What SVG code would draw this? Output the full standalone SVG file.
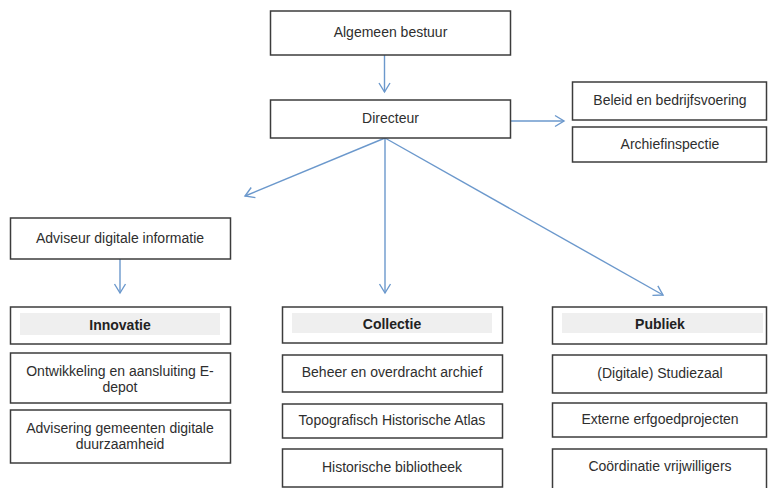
<svg xmlns="http://www.w3.org/2000/svg" width="769" height="488" viewBox="0 0 769 488">
<style>
.box{fill:#fff;stroke:#3c3c3c;stroke-width:1.5}
.band{fill:#efefef;stroke:none}
.t{font-family:"Liberation Sans",Arial,sans-serif;font-size:14px;fill:#2e2e2e;text-anchor:middle}
.h{font-weight:bold;fill:#222}
.c{fill:none;stroke:#6b98cc;stroke-width:1.4}
</style>
<defs>
<marker id="arr" viewBox="-11 -7 13 14" refX="0" refY="0" markerWidth="13" markerHeight="14" markerUnits="userSpaceOnUse" orient="auto">
<path d="M-9,-5.5 L0,0 L-9,5.5" fill="none" stroke="#6b98cc" stroke-width="1.4"/>
</marker>
</defs>
<rect width="769" height="488" fill="#fff"/>
<g id="connectors">
<line class="c" x1="384.5" y1="55" x2="384.5" y2="92" marker-end="url(#arr)"/>
<line class="c" x1="511" y1="121" x2="564" y2="121" marker-end="url(#arr)"/>
<line class="c" x1="385" y1="138" x2="245" y2="196" marker-end="url(#arr)"/>
<line class="c" x1="385" y1="138" x2="385" y2="293" marker-end="url(#arr)"/>
<line class="c" x1="385" y1="138" x2="663" y2="295" marker-end="url(#arr)"/>
<line class="c" x1="120" y1="259" x2="120" y2="293" marker-end="url(#arr)"/>
</g>
<g id="algemeen-bestuur">
<rect class="box" x="270.5" y="11" width="240" height="44"/>
<text class="t" x="390.5" y="37">Algemeen bestuur</text>
</g>
<g id="directeur">
<rect class="box" x="270.5" y="100" width="240" height="38"/>
<text class="t" x="390.5" y="123">Directeur</text>
</g>
<g id="beleid">
<rect class="box" x="572.5" y="82" width="194" height="38"/>
<text class="t" x="670" y="105">Beleid en bedrijfsvoering</text>
</g>
<g id="archiefinspectie">
<rect class="box" x="572.5" y="127" width="194" height="35"/>
<text class="t" x="670" y="149">Archiefinspectie</text>
</g>
<g id="adviseur">
<rect class="box" x="10.5" y="218" width="220" height="41"/>
<text class="t" x="120" y="243">Adviseur digitale informatie</text>
</g>
<g id="innovatie">
<rect class="box" x="10.5" y="307" width="220" height="37"/>
<rect class="band" x="20" y="313" width="200" height="22"/>
<text class="t h" x="120" y="330">Innovatie</text>
</g>
<g id="ontwikkeling">
<rect class="box" x="10.5" y="353" width="220" height="50"/>
<text class="t" x="120" y="376">Ontwikkeling en aansluiting E-</text>
<text class="t" x="120" y="392">depot</text>
</g>
<g id="advisering">
<rect class="box" x="10.5" y="410" width="220" height="53"/>
<text class="t" x="120" y="433">Advisering gemeenten digitale</text>
<text class="t" x="120" y="449">duurzaamheid</text>
</g>
<g id="collectie">
<rect class="box" x="282.5" y="307" width="220" height="36"/>
<rect class="band" x="292" y="313" width="200" height="20"/>
<text class="t h" x="392" y="329">Collectie</text>
</g>
<g id="beheer">
<rect class="box" x="282.5" y="355" width="220" height="37"/>
<text class="t" x="392" y="377">Beheer en overdracht archief</text>
</g>
<g id="topografisch">
<rect class="box" x="282.5" y="404" width="220" height="34"/>
<text class="t" x="392" y="425">Topografisch Historische Atlas</text>
</g>
<g id="historische-bibliotheek">
<rect class="box" x="282.5" y="449" width="220" height="38"/>
<text class="t" x="392" y="472">Historische bibliotheek</text>
</g>
<g id="publiek">
<rect class="box" x="552.5" y="307" width="214" height="37"/>
<rect class="band" x="562" y="313" width="201" height="20"/>
<text class="t h" x="660" y="329">Publiek</text>
</g>
<g id="studiezaal">
<rect class="box" x="552.5" y="355" width="214" height="38"/>
<text class="t" x="660" y="378">(Digitale) Studiezaal</text>
</g>
<g id="externe">
<rect class="box" x="552.5" y="403" width="214" height="34"/>
<text class="t" x="660" y="424">Externe erfgoedprojecten</text>
</g>
<g id="coordinatie">
<rect class="box" x="552.5" y="449" width="214" height="46"/>
<text class="t" x="660" y="471">Coördinatie vrijwilligers</text>
</g>
</svg>
